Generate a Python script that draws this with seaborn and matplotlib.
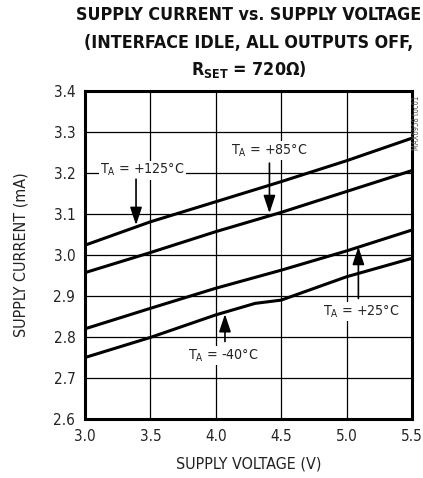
import matplotlib
matplotlib.use("Agg")
import matplotlib.pyplot as plt
import seaborn as sns
import pandas as pd

# supply voltage (V)
voltage = [3.0, 3.5, 4.0, 4.5, 5.0, 5.5]
# supply current (mA) per temperature
i_125 = [3.024, 3.081, 3.130, 3.179, 3.230, 3.285]
i_85 = [2.957, 3.006, 3.057, 3.104, 3.155, 3.206]
i_25 = [2.820, 2.870, 2.919, 2.963, 3.010, 3.061]
v_m40 = [3.0, 3.5, 4.0, 4.3, 4.5, 5.0, 5.5]
i_m40 = [2.750, 2.799, 2.854, 2.882, 2.890, 2.947, 2.992]

x_ticks = [3.0, 3.5, 4.0, 4.5, 5.0, 5.5]
y_ticks = [2.6, 2.7, 2.8, 2.9, 3.0, 3.1, 3.2, 3.3, 3.4]

rows = []
for name, xs, ys in [("+125", voltage, i_125), ("+85", voltage, i_85),
                     ("+25", voltage, i_25), ("-40", v_m40, i_m40)]:
    for x, y in zip(xs, ys):
        rows.append({"V": x, "I": y, "T": name})
df = pd.DataFrame(rows)

sns.set_theme(style="white")
plt.rcParams["font.family"] = ["DejaVu Sans"]
plt.rcParams["font.stretch"] = "condensed"
plt.rcParams["mathtext.fontset"] = "custom"
plt.rcParams["mathtext.rm"] = "DejaVu Sans"
plt.rcParams["mathtext.bf"] = "DejaVu Sans:bold"

fig = plt.figure(figsize=(4.23, 4.78), dpi=100)
ax = fig.add_axes([0.201, 0.1234, 0.773, 0.6862])

sns.lineplot(data=df, x="V", y="I", hue="T", palette=["black"] * 4,
             linewidth=2.2, legend=False, ax=ax, estimator=None, sort=True)

ax.set_xlim(3.0, 5.5)
ax.set_ylim(2.6, 3.4)
ax.set_xticks(x_ticks)
ax.set_yticks(y_ticks)
ax.set_xticklabels([f"{v:.1f}" for v in x_ticks], fontsize=11, color="#222222")
ax.set_yticklabels([f"{v:.1f}" for v in y_ticks], fontsize=11, color="#222222")
ax.tick_params(length=0, pad=7)
ax.grid(True, color="black", linewidth=0.9)
ax.set_axisbelow(True)
for s in ax.spines.values():
    s.set_visible(True)
    s.set_linewidth(2.2)
    s.set_color("black")

ax.set_xlabel("SUPPLY VOLTAGE (V)", fontsize=11.5, color="#222222", labelpad=9)
ax.set_ylabel("SUPPLY CURRENT (mA)", fontsize=11.5, color="#222222", labelpad=18)

# titel in drie regels
title_lines = ["SUPPLY CURRENT vs. SUPPLY VOLTAGE",
               "(INTERFACE IDLE, ALL OUTPUTS OFF,",
               r"R$\mathbf{_{SET}}$ = 720Ω)"]
for i, line in enumerate(title_lines):
    fig.text(0.587, 0.968 - i * 0.057, line, ha="center", va="center",
             fontsize=12.8, fontweight="bold", color="#111111")

box = dict(facecolor="white", edgecolor="none", pad=1.0)
labels = [
    (3.44, 3.207, "+125°C", (3.39, 3.185), (3.39, 3.073)),
    (4.41, 3.254, "+85°C", (4.41, 3.224), (4.41, 3.102)),
    (5.115, 2.862, "+25°C", (5.09, 2.894), (5.09, 3.02)),
    (4.06, 2.754, "-40°C", (4.07, 2.789), (4.07, 2.856)),
]
for lx, ly, t, start, tip in labels:
    ax.text(lx, ly, r"T$\mathregular{_A}$ = " + t, ha="center", va="center",
            fontsize=10.2, color="#222222", bbox=box)
    ax.annotate("", xy=tip, xytext=start,
                arrowprops=dict(arrowstyle="-|>,head_length=0.9,head_width=0.3",
                                color="black", lw=1.2, shrinkA=0, shrinkB=0))

fig.text(0.985, 0.80, "MAX6958 toc01", rotation=90, ha="center", va="top",
         fontsize=5.5, color="#555555")

fig.savefig("out.png", dpi=100)
